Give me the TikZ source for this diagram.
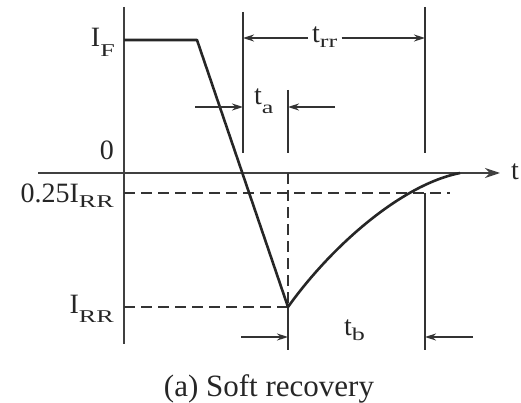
\documentclass[tikz,border=0pt]{standalone}
\usepackage{fontspec}
\usepackage{graphicx}
\setmainfont{Liberation Serif}
\usetikzlibrary{arrows.meta}
\newcommand\lsub[2][7pt]{\raisebox{-#1}{\scalebox{1.45}[1]{\fontsize{18}{18}\selectfont #2}}}
\tikzset{
  lbl/.style={inner sep=0pt, text=black!85, font=\fontsize{28}{28}\selectfont},
  axisline/.style={line width=1.8pt, draw=black!75},
  wave/.style={line width=2.6pt, line join=round, draw=black!85},
  guide/.style={line width=1.6pt, draw=black!80},
  dashguide/.style={line width=1.6pt, dash pattern=on 11pt off 6pt, draw=black!80},
  dimarrow/.style={line width=1.6pt, draw=black!80, -{Stealth[length=11pt,width=7pt]}},
}
\begin{document}
\begin{tikzpicture}[x=1pt,y=-1pt]
\useasboundingbox (0,0) rectangle (521,403);
% coordinates
\coordinate (axT) at (124,7);
\coordinate (axB) at (124,344);
\coordinate (tL) at (38,173);
\coordinate (tR) at (500,173);
\coordinate (F0) at (124,40);
\coordinate (F1) at (197,40);
\coordinate (RR) at (288,307);
\coordinate (E) at (460,173);
\coordinate (vaT) at (243,12);
\coordinate (vaB) at (243,153);
\coordinate (vrT) at (425,7);
\coordinate (vrB) at (425,153);
\coordinate (vrT2) at (425,193);
\coordinate (vrB2) at (425,350);
\coordinate (vbT) at (288,90);
\coordinate (vbB) at (288,153);
\coordinate (vbA) at (288,173);
\coordinate (vbE) at (288,350);
\coordinate (qL) at (124,193);
\coordinate (qR) at (450,193);
\coordinate (rL) at (124,307);
% axes
\draw[axisline] (axT) -- (axB);
\draw[axisline, -{Stealth[length=15pt,width=10pt]}] (tL) -- (tR);
\node[lbl, anchor=base west] (tlab) at (511,180) {t};
% dashed guides
\draw[dashguide] (qL) -- (qR);
\draw[dashguide] (rL) -- (RR);
\draw[dashguide] (vbA) -- (RR);
% vertical guides
\draw[guide] (vaT) -- (vaB);
\draw[guide] (vrT) -- (vrB);
\draw[guide] (vrT2) -- (vrB2);
\draw[guide] (vbT) -- (vbB);
\draw[guide] (RR) -- (vbE);
% waveform
\draw[wave] (F0) -- (F1) -- (RR) .. controls (330,248) and (400,185) .. (E);
% labels on the current axis
\node[lbl, anchor=base east] (IF) at (115,47) {I\lsub[10pt]{F}};
\node[lbl, anchor=base east] (zero) at (114,160) {0};
\node[lbl, anchor=base east] (q) at (114,203) {0.25I\lsub[5pt]{RR}};
\node[lbl, anchor=base east] (IRR) at (114,313) {I\lsub[9pt]{RR}};
% t_rr
\node[lbl, anchor=base west] (trr) at (312,43) {t\lsub[5pt]{rr}};
\coordinate (trrL) at (243,38);
\coordinate (trrR) at (425,38);
\draw[dimarrow] (trr.west |- trrL) ++(-4,0) coordinate (trrw) -- (trrL);
\draw[dimarrow] (trr.east |- trrR) ++(4,0) coordinate (trre) -- (trrR);
% t_a
\node[lbl, anchor=base west] (ta) at (254,105) {t\lsub[9pt]{a}};
\coordinate (taS) at (195,107);
\coordinate (taT) at (243,107);
\coordinate (taS2) at (335,107);
\coordinate (taT2) at (288,107);
\draw[dimarrow] (taS) -- (taT);
\draw[dimarrow] (taS2) -- (taT2);
% t_b
\node[lbl, anchor=base west] (tb) at (344,335) {t\lsub[5pt]{b}};
\coordinate (tbS) at (241,337);
\coordinate (tbT) at (288,337);
\coordinate (tbS2) at (473,337);
\coordinate (tbT2) at (425,337);
\draw[dimarrow] (tbS) -- (tbT);
\draw[dimarrow] (tbS2) -- (tbT2);
% caption
\node[inner sep=0pt, anchor=base, text=black!85, font=\fontsize{31}{31}\selectfont] (cap) at (269,396) {(a) Soft recovery};
\end{tikzpicture}
\end{document}
